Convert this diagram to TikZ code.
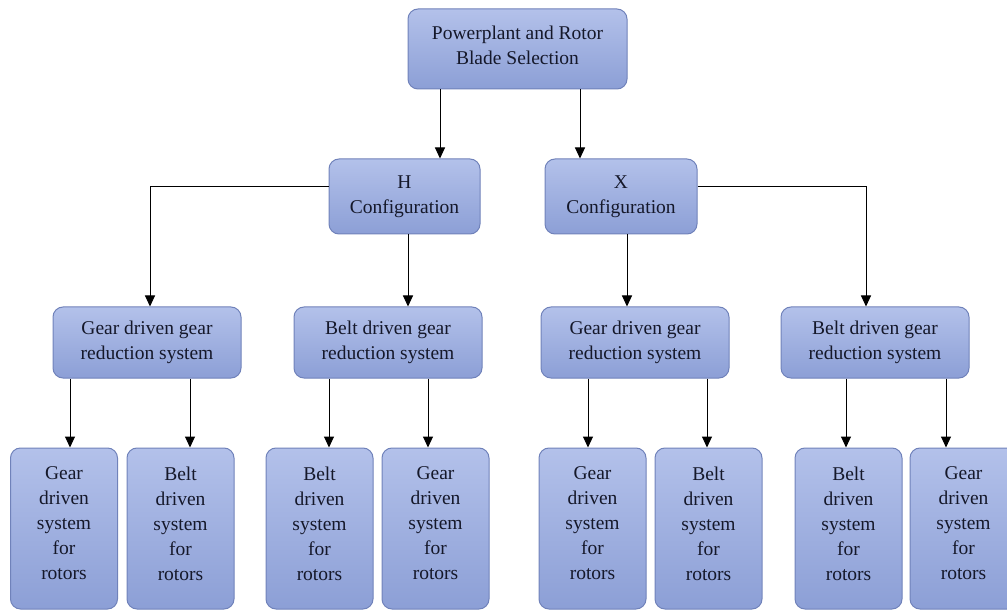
\documentclass[tikz,border=0pt]{standalone}
\usepackage{fontspec}
\setmainfont{Liberation Serif}
\usetikzlibrary{arrows.meta}
\definecolor{ftop}{HTML}{B3C1EA}
\definecolor{fbot}{HTML}{8C9FD6}
\definecolor{bord}{HTML}{7082BA}
\definecolor{txt}{HTML}{15182A}
\tikzset{
  box/.style={draw=bord, line width=1pt, rounded corners=10pt, top color=ftop, bottom color=fbot,
    inner sep=0pt, align=center, text=txt, font=\fontsize{19.5}{25}\selectfont},
  arr/.style={line width=1pt, -{Triangle[length=11pt,width=10pt]}},
  ln/.style={line width=1pt}
}
\begin{document}
\begin{tikzpicture}[x=1pt,y=-1pt]
\useasboundingbox (0,0) rectangle (1007,612);
\node[box, minimum width=219pt, minimum height=80pt] (top) at (517.5,49) {Powerplant and Rotor\\Blade Selection\\[-24pt]\strut};
\node[box, minimum width=151pt, minimum height=75pt] (hc) at (404.5,196.5) {H\\Configuration};
\node[box, minimum width=152pt, minimum height=75pt] (xc) at (621,196.5) {X\\Configuration};
\foreach \n/\x/\t in {a/147/Gear, b/388/Belt, c/635/Gear, d/875/Belt}{
  \node[box, minimum width=188pt, minimum height=71pt] (\n) at (\x,342.5) {\t{} driven gear\\reduction system};
}
\foreach \n/\x/\t in {a1/64/Gear, a2/180.5/Belt, b1/319.5/Belt, b2/435.5/Gear, c1/592.5/Gear, c2/708.5/Belt, d1/848.5/Belt, d2/963.5/Gear}{
  \node[box, minimum width=107pt, minimum height=161pt] (\n) at (\x,528.5) {\t\\driven\\system\\for\\rotors\\[-22pt]\strut};
}
% top to configurations
\draw[arr] (top.south -| 440,0) -- (hc.north -| 440,0);
\draw[arr] (top.south -| 580,0) -- (xc.north -| 580,0);
% configurations to reduction systems
\draw[arr] (hc.west |- 0,187) -| (a.north -| 150,0);
\draw[arr] (hc.south -| 408,0) -- (b.north -| 408,0);
\draw[arr] (xc.south -| 627,0) -- (c.north -| 627,0);
\draw[arr] (xc.east |- 0,187) -| (d.north -| 866,0);
% reduction systems to rotor systems
\draw[arr] (a.south -| 70,0) -- (a1.north -| 70,0);
\draw[arr] (a.south -| 190,0) -- (a2.north -| 190,0);
\draw[arr] (b.south -| 329,0) -- (b1.north -| 329,0);
\draw[arr] (b.south -| 428,0) -- (b2.north -| 428,0);
\draw[arr] (c.south -| 588,0) -- (c1.north -| 588,0);
\draw[arr] (c.south -| 707,0) -- (c2.north -| 707,0);
\draw[arr] (d.south -| 846,0) -- (d1.north -| 846,0);
\draw[arr] (d.south -| 946,0) -- (d2.north -| 946,0);
\end{tikzpicture}
\end{document}
